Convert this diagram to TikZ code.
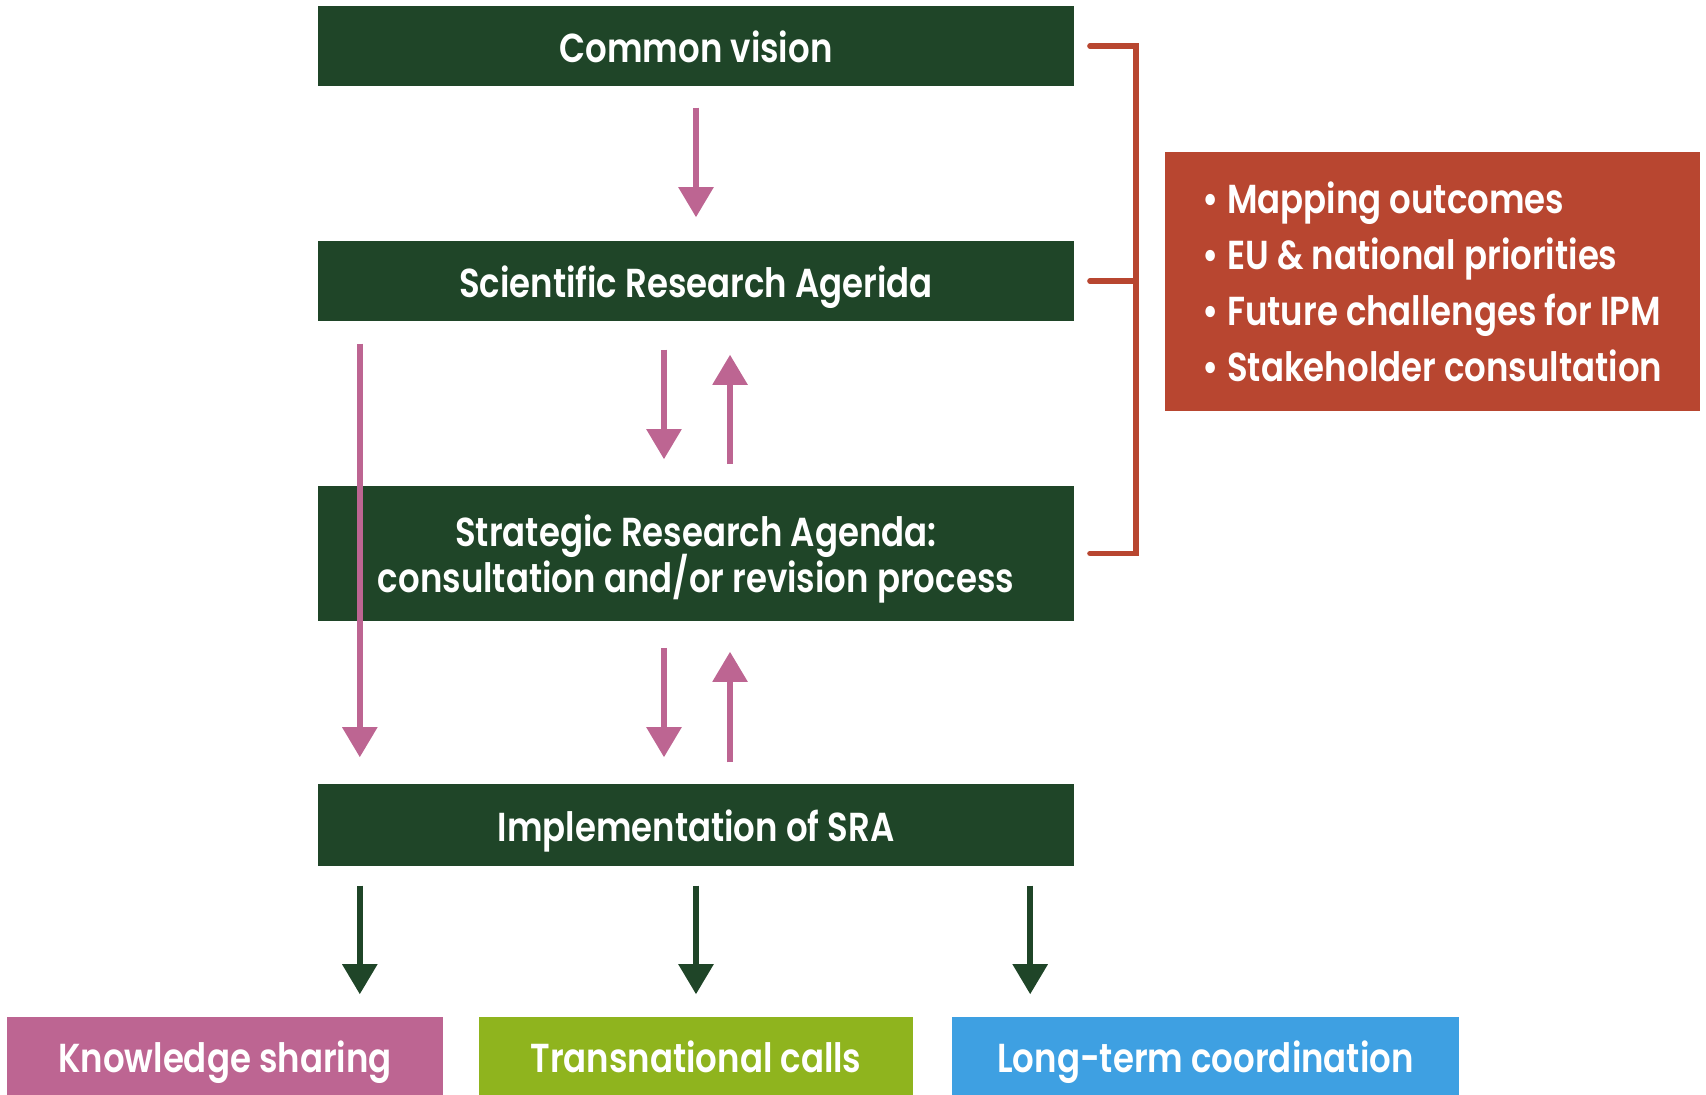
\documentclass[tikz,border=0pt]{standalone}
\usepackage{fontspec}
\setmainfont{Poppins}[FakeStretch=0.84,UprightFont={* SemiBold}]
\usetikzlibrary{arrows.meta}

\definecolor{stagegreen}{RGB}{31,69,40}
\definecolor{flowpink}{RGB}{189,101,146}
\definecolor{inputred}{RGB}{184,70,48}
\definecolor{callgreen}{RGB}{143,180,30}
\definecolor{coordblue}{RGB}{62,160,226}

\tikzset{
  stagebox/.style={fill=stagegreen, text=white, minimum width=7.56cm, inner sep=0pt,
    align=center, font=\fontsize{11.5}{12.5}\selectfont},
  stage/.style={stagebox, text height=9.6pt, text depth=0pt},
  outcome/.style={fill=#1, text=white, minimum height=0.78cm, inner sep=0pt,
    text height=9.6pt, text depth=0pt, font=\fontsize{11.5}{12.5}\selectfont},
  flow/.style={flowpink, line width=0.055cm, -{Triangle[width=0.34cm,length=0.3cm]}},
  result/.style={stagegreen, line width=0.055cm, -{Triangle[width=0.34cm,length=0.3cm]}},
  bracket/.style={inputred, line width=0.055cm, line cap=round}
}

\begin{document}
\begin{tikzpicture}[x=0.01cm,y=-0.01cm]
                \useasboundingbox (0,0) rectangle (1706,1095);
                % stages
                \node[stage, minimum height=0.8cm] (vision) at (696,46) {Common vision};
                \node[stage, minimum height=0.8cm] (sci) at (696,281) {Scientific Research Agerida};
                \node[stagebox, minimum height=1.35cm, text depth=0pt,
                  font={\fontsize{11.5}{13}\selectfont\lineskiplimit=-20pt}] (strat) at (696,553.5)
                  {Strategic Research Agenda:\\consultation and/or revision process};
                \node[stage, minimum height=0.82cm] (impl) at (696,825) {Implementation of SRA};
                % outcomes
                \node[outcome=flowpink, minimum width=4.35cm] (know) at (225,1056) {Knowledge sharing};
                \node[outcome=callgreen, minimum width=4.34cm] (trans) at (696,1056) {Transnational calls};
                \node[outcome=coordblue, minimum width=5.07cm] (long) at (1205.5,1056) {Long-term coordination};
                % inputs
                \node[fill=inputred, text=white, minimum width=5.35cm, minimum height=2.59cm,
                  inner sep=0pt, align=left, font=\fontsize{11.5}{15.9}\selectfont] (inputs) at (1432.5,281.5)
                  {• Mapping outcomes\\• EU \& national priorities\\• Future challenges for IPM\\• Stakeholder consultation};
                \coordinate (brk) at (1136,0);
                \draw[bracket] ([xshift=0.15cm]vision.east) -| (brk |- strat.east) -- ([xshift=0.15cm]strat.east);
                \draw[bracket] ([xshift=0.15cm]sci.east) -- (brk |- sci.east);
                % pink arrows
                \draw[flow, shorten <=0.21cm, shorten >=0.23cm] (vision.south) -- (sci.north);
                \draw[flow, shorten <=0.28cm, shorten >=0.26cm] ([xshift=-0.32cm]sci.south) -- ([xshift=-0.32cm]strat.north);
                \draw[flow, shorten <=0.21cm, shorten >=0.33cm] ([xshift=0.34cm]strat.north) -- ([xshift=0.34cm]sci.south);
                \draw[flow, shorten <=0.26cm, shorten >=0.26cm] ([xshift=-0.32cm]strat.south) -- ([xshift=-0.32cm]impl.north);
                \draw[flow, shorten <=0.21cm, shorten >=0.30cm] ([xshift=0.34cm]impl.north) -- ([xshift=0.34cm]strat.south);
                \draw[flow, shorten <=0.22cm, shorten >=0.26cm] ([xshift=-3.36cm]sci.south) -- ([xshift=-3.36cm]impl.north);
                % green arrows
                \draw[result, shorten <=0.19cm, shorten >=0.22cm] ([xshift=-3.36cm]impl.south) coordinate (k0) -- (k0 |- know.north);
                \draw[result, shorten <=0.19cm, shorten >=0.22cm] (impl.south) -- (trans.north);
                \draw[result, shorten <=0.19cm, shorten >=0.22cm] ([xshift=3.34cm]impl.south) coordinate (l0) -- (l0 |- long.north);
            \end{tikzpicture}
\end{document}
